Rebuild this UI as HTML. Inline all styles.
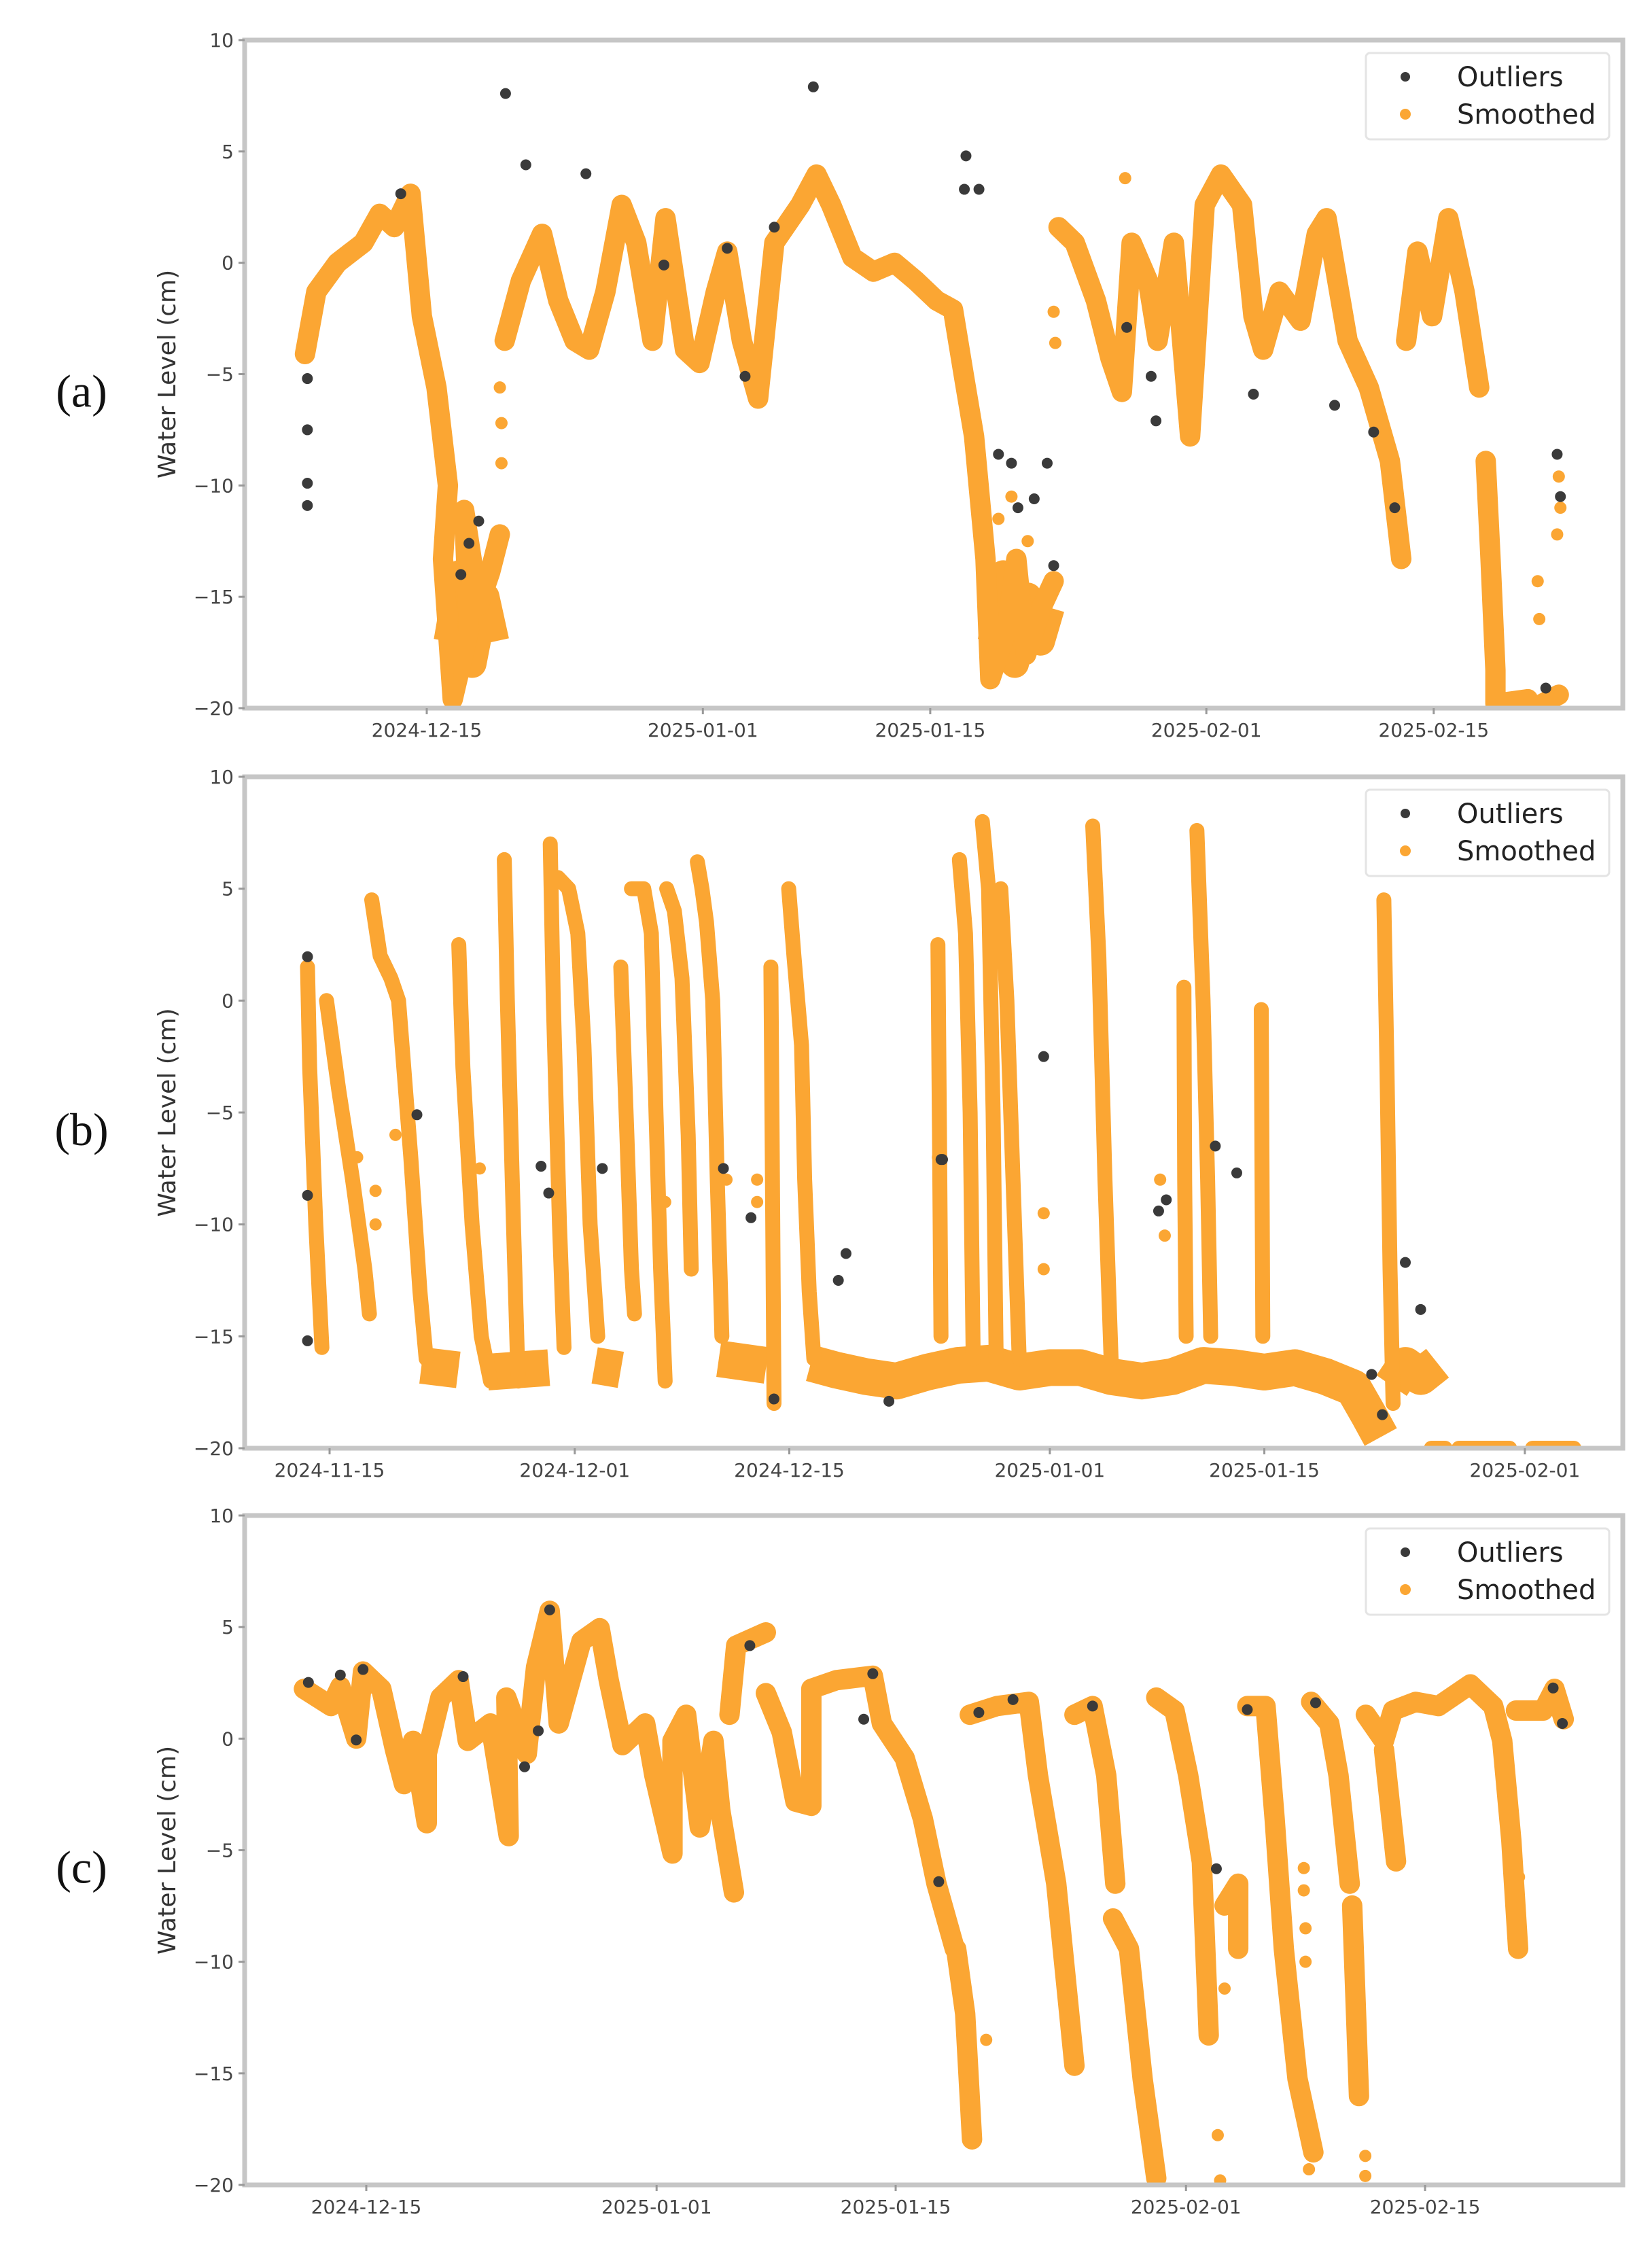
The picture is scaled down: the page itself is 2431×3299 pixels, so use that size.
<!DOCTYPE html>
<html><head><meta charset="utf-8"><style>
html,body{margin:0;padding:0;background:#fff;}
svg{display:block;}
text{font-family:"DejaVu Sans","Liberation Sans",sans-serif;}
</style></head><body>
<svg id="fig" width="2431" height="3299" viewBox="0 0 2431 3299" xmlns="http://www.w3.org/2000/svg">
<rect x="0" y="0" width="2431" height="3299" fill="#fff"/>
</svg>
<script>
// ---------- shared data ----------
const yTickValues = [10, 5, 0, -5, -10, -15, -20];
const yTickLabels = ['10', '5', '0', '\u22125', '\u221210', '\u221215', '\u221220'];

// ---------- panel (a) ----------
const aTickDays = [0, 17, 31, 48, 62];
const aTickLabels = ['2024-12-15', '2025-01-01', '2025-01-15', '2025-02-01', '2025-02-15'];
const aSmoothed = [[-7.5,-4.1],[-6.8,-1.3],[-5.5,0.0],[-3.9,0.9],[-2.9,2.2],[-2.0,1.6],[-1.0,3.1],[-0.3,-2.4],[0.6,-5.6],[1.3,-10],[1.0,-13.3],[1.6,-19.6],[2.6,-16.5],[2.3,-11.1],[3.2,-15.4],[3.9,-13.9],[4.5,-12.2],null,
[4.8,-3.5],[5.8,-0.8],[7.1,1.3],[8.1,-1.7],[9.1,-3.5],[10.0,-3.9],[11.0,-1.3],[12.0,2.6],[12.9,0.9],[13.9,-3.5],[14.7,2.0],[15.9,-3.9],[16.8,-4.5],[17.8,-1.3],[18.5,0.5],[19.4,-3.5],[20.4,-6.1],[21.4,0.9],[23.0,2.6],[24.0,3.96],[24.9,2.6],[26.2,0.25],[27.5,-0.4],[28.8,0.0],[30.1,-0.8],[31.4,-1.7],[32.4,-2.1],[33.1,-5.2],[33.7,-7.8],[34.4,-13.3],[34.7,-18.7],[35.7,-16.5],[36.3,-13.3],[36.9,-17.6],[37.9,-15.4],[38.6,-14.3],null,
[38.9,1.6],[39.9,0.9],[41.2,-1.7],[42.1,-4.3],[42.8,-5.8],[43.4,0.9],[44.4,-0.8],[45.0,-3.5],[46.0,0.9],[47.0,-7.8],[47.9,2.6],[48.9,3.96],[50.2,2.6],[50.9,-2.4],[51.5,-3.9],[52.5,-1.3],[53.8,-2.6],[54.8,1.3],[55.4,2.0],[56.7,-3.5],[58.0,-5.6],[59.3,-8.9],[60.0,-13.3],null,
[60.3,-3.5],[61.0,0.5],[61.9,-2.4],[62.9,2.0],[63.9,-1.3],[64.8,-5.6],null,
[65.2,-8.9],[65.5,-13.3],[65.8,-18.3],[65.8,-19.8],[67.8,-19.6],null,[68.7,-19.8],[69.7,-19.4]];
const aBand = [[1.3,-17],[2.0,-14],[2.8,-18],[3.6,-15],[4.2,-17],null,[34.8,-17],[35.5,-14],[36.2,-18],[37.0,-15],[37.8,-17],[38.4,-15.5]];
const aSparse = [[4.5,-5.6],[4.6,-7.2],[4.6,-9.0],[2.0,-18.5],[38.6,-2.2],[38.7,-3.6],[43.0,3.8],[68.4,-14.3],[68.5,-16.0],[69.6,-12.2],[69.7,-9.6],[69.8,-11.0],[65.3,-10.5],[35.2,-11.5],[36.0,-10.5],[37.0,-12.5]];
const aOutliers = [[-7.35,-5.2],[-7.35,-7.5],[-7.35,-9.9],[-7.35,-10.9],[-1.6,3.1],[4.85,7.6],[6.1,4.4],[9.8,4.0],[2.1,-14.0],[2.6,-12.6],[3.2,-11.6],[19.6,-5.1],[18.5,0.65],[23.8,7.9],[33.2,4.8],[33.1,3.3],[34.0,3.3],[35.2,-8.6],[36.0,-9.0],[36.4,-11.0],[37.4,-10.6],[38.2,-9.0],[38.6,-13.6],[43.1,-2.9],[44.6,-5.1],[44.9,-7.1],[50.9,-5.9],[55.9,-6.4],[58.3,-7.6],[59.6,-11.0],[68.9,-19.1],[69.6,-8.6],[69.8,-10.5],[14.6,-0.1],[21.4,1.6]];

// ---------- panel (b) ----------
const bTickDays = [0, 16, 30, 47, 61, 78];
const bTickLabels = ['2024-11-15', '2024-12-01', '2024-12-15', '2025-01-01', '2025-01-15', '2025-02-01'];
const bSmoothed = [[-1.44,1.5],[-1.3,-3],[-0.9,-10],[-0.5,-15.5],null,
[-0.2,0],[0.6,-4],[1.5,-8],[2.3,-12],[2.6,-14],null,
[2.75,4.5],[3.3,2],[4.0,1],[4.5,0],[5.3,-7],[5.9,-13],[6.3,-16],null,
[8.43,2.5],[8.7,-3],[9.3,-10],[9.9,-15],[10.5,-17],null,
[11.4,6.3],[11.6,0],[12.0,-10],[12.3,-17],null,
[14.4,7],[14.6,0],[15.0,-10],[15.3,-15.5],null,
[14.9,5.5],[15.6,5],[16.2,3],[16.6,-2],[17.0,-10],[17.5,-15],null,
[19.0,1.5],[19.4,-6],[19.7,-12],[19.9,-14],null,
[19.7,5],[20.5,5],[21.0,3],[21.3,-5],[21.6,-12],[21.9,-17],null,
[22.0,5],[22.5,4],[23.0,1],[23.4,-6],[23.6,-12],null,
[24.0,6.2],[24.3,5],[24.6,3.5],[25.0,0],[25.3,-8],[25.6,-15],null,
[28.8,1.5],[28.9,-8],[29.0,-18],null,
[29.96,5],[30.3,2],[30.8,-2],[31.0,-8],[31.3,-13],[31.6,-16],null,
[39.7,2.5],[39.8,-6],[39.9,-15],null,
[41.1,6.3],[41.5,3],[41.8,-5],[42,-16],null,
[42.6,8],[43.0,5],[43.3,-5],[43.5,-16],null,
[43.8,5],[44.2,0],[44.6,-8],[45,-16],null,
[49.8,7.8],[50.2,2],[50.6,-8],[51.0,-16],null,
[55.75,0.6],[55.8,-8],[55.9,-15],null,
[56.6,7.6],[57.0,0],[57.3,-8],[57.5,-15],null,
[60.8,-0.4],[60.85,-8],[60.9,-15],null,
[68.8,4.5],[69.0,-3],[69.2,-12],[69.4,-18],null,
[71.9,-20],[72.8,-20],null,[73.7,-20],[77,-20],null,[78.5,-20],[81.2,-20]];
const bBand = [[6.0,-16.3],[8.4,-16.5],null,[10.3,-16.6],[14.3,-16.4],null,[17.3,-16.3],[19.0,-16.5],null,[25.4,-16],[28.5,-16.3],null,
[31.4,-16.2],[33,-16.5],[35,-16.8],[37,-17.0],[39,-16.6],[41,-16.3],[43,-16.2],[45,-16.6],[47,-16.4],[49,-16.4],[51,-16.8],[53,-17.0],[55,-16.8],[57,-16.3],[59,-16.4],[61,-16.6],[63,-16.4],[65,-16.8],[66.8,-17.3],[67.8,-18.5],[68.6,-19.5],null,
[69.3,-17.2],[70.2,-16.3],[71.2,-16.8],[72.3,-16.2]];
const bSparse = [[3.0,-8.5],[3.0,-10],[1.8,-7],[4.3,-6],[9.8,-7.5],[21.9,-9],[25.9,-8],[27.9,-9],[27.9,-8],[39.7,-7],[46.6,-9.5],[46.6,-12],[54.2,-8],[54.5,-10.5]];
const bOutliers = [[-1.44,1.96],[-1.44,-8.7],[-1.44,-15.2],[5.7,-5.1],[13.8,-7.4],[14.3,-8.6],[17.8,-7.5],[25.7,-7.5],[27.5,-9.7],[33.7,-11.3],[33.2,-12.5],[29.0,-17.8],[36.5,-17.9],[39.9,-7.1],[46.6,-2.5],[40.0,-7.1],[57.8,-6.5],[59.2,-7.7],[54.6,-8.9],[54.1,-9.4],[70.2,-11.7],[71.2,-13.8],[68.0,-16.7],[68.7,-18.5]];

// ---------- panel (c) ----------
const cTickDays = [0, 17, 31, 48, 62];
const cTickLabels = ['2024-12-15', '2025-01-01', '2025-01-15', '2025-02-01', '2025-02-15'];
const cSmoothed = [[-3.65,2.23],[-2.06,1.46],[-1.52,2.33],[-0.59,0],[-0.19,3.01],[0.88,2.23],[1.68,-0.49],[2.21,-2.04],[2.74,-0.1],[3.54,-3.79],[3.54,-0.68],[4.34,1.84],[5.41,2.62],[5.94,-0.1],[7.27,0.68],[8.34,-4.37],[8.2,1.84],[9.4,-0.68],[9.94,3.2],[10.74,5.73],[11.27,0.68],[12.6,4.37],[13.67,4.95],[14.2,2.62],[15.0,-0.29],[16.33,0.68],[16.87,-1.65],[17.93,-5.15],[17.93,-0.1],[18.73,1.07],[19.53,-3.98],[20.33,-0.1],[20.73,-3.2],[21.53,-6.89],null,
[21.27,1.07],[21.66,4.17],[23.4,4.76],null,
[23.4,2.04],[24.33,0.29],[25.13,-2.82],[26.06,-3.01],[26.06,2.23],[27.53,2.62],[29.66,2.82],[30.19,0.68],[31.53,-0.87],[32.59,-3.59],[33.39,-6.5],[34.46,-9.42],[34.54,-9.42],[35.07,-12.33],[35.47,-17.96],null,
[35.34,1.07],[36.93,1.46],[38.8,1.65],[39.33,-1.65],[40.4,-6.5],[41.47,-14.66],null,
[41.47,1.07],[42.53,1.46],[43.33,-1.65],[43.86,-6.5],null,
[43.73,-8.06],[44.66,-9.42],[45.46,-15.24],[46.26,-19.7],null,
[46.26,1.84],[47.33,1.26],[48.13,-1.65],[48.93,-5.53],[49.33,-13.3],null,
[50.26,-7.48],[51.06,-6.5],[51.06,-9.42],null,
[51.59,1.46],[52.66,1.46],[53.19,-3.59],[53.73,-9.42],[54.53,-15.24],[55.46,-18.54],null,
[55.33,1.65],[56.39,0.68],[56.93,-1.65],[57.59,-6.5],null,
[57.73,-7.48],[58.13,-16.02],null,
[58.53,1.07],[59.59,-0.1],[60.12,1.26],[61.45,1.65],[62.79,1.46],[64.65,2.43],[65.99,1.46],[66.52,-0.1],[67.05,-4.56],[67.45,-9.42],null,
[59.6,-0.5],[60.3,-5.5],null,
[67.32,1.26],[68.92,1.26],[69.58,2.23],[70.12,0.87]];
const cBand = [];
const cSparse = [[49.86,-17.77],[50.0,-19.8],[50.26,-11.2],[54.9,-5.8],[54.9,-6.8],[55.0,-8.5],[55.0,-10],[55.2,-19.3],[58.5,-18.7],[58.5,-19.6],[67.5,-6.2],[67.5,-7.6],[36.3,-13.5]];
const cOutliers = [[-1.52,2.85],[-0.19,3.1],[5.67,2.78],[10.74,5.77],[22.46,4.17],[29.66,2.91],[29.13,0.87],[9.27,-1.26],[10.07,0.35],[-0.59,-0.06],[33.52,-6.41],[-3.39,2.52],[42.53,1.46],[49.78,-5.83],[69.5,2.27],[70.04,0.68],[55.59,1.61],[51.59,1.3],[37.87,1.75],[35.87,1.17]];

// ---------- layout (positions, not data) ----------
const panels = [
  {id:'a', label:'(a)', left:360, right:2388, top:59, bottom:1042, x0:628, pxPerDay:23.9, lw:30, bandW:42, ticksD:aTickDays, ticksL:aTickLabels, smooth:aSmoothed, band:aBand, sparse:aSparse, outl:aOutliers},
  {id:'b', label:'(b)', left:360, right:2388, top:1143, bottom:2131, x0:485, pxPerDay:22.55, lw:22, bandW:54, ticksD:bTickDays, ticksL:bTickLabels, smooth:bSmoothed, band:bBand, sparse:bSparse, outl:bOutliers},
  {id:'c', label:'(c)', left:360, right:2388, top:2230, bottom:3215, x0:539, pxPerDay:25.13, lw:30, bandW:40, ticksD:cTickDays, ticksL:cTickLabels, smooth:cSmoothed, band:cBand, sparse:cSparse, outl:cOutliers}
];
const NS = 'http://www.w3.org/2000/svg';
const svg = document.getElementById('fig');
const ORANGE = '#fba633';
const DARK = '#3a3a3a';

function mk(tag, attrs, parent) {
  const el = document.createElementNS(NS, tag);
  for (const k in attrs) el.setAttribute(k, attrs[k]);
  parent.appendChild(el);
  return el;
}

panels.forEach(p => {
  const xS = d => p.x0 + d * p.pxPerDay;
  const yS = v => p.bottom - (v + 20) * (p.bottom - p.top) / 30;
  const g = mk('g', {}, svg);
  
  

  const clipId = 'clip-' + p.id;
  const cp = mk('clipPath', {id: clipId}, g);
  mk('rect', {x: p.left, y: p.top - 12, width: p.right - p.left, height: p.bottom - p.top + 14}, cp);

  function pathFrom(series) {
    let d = '', pen = false;
    series.forEach(pt => {
      if (pt === null) { pen = false; return; }
      d += (pen ? 'L' : 'M') + xS(pt[0]).toFixed(1) + ' ' + yS(pt[1]).toFixed(1) + ' ';
      pen = true;
    });
    return d;
  }
  if (p.band.length) {
    const band = mk('path', {d: pathFrom(p.band), fill: 'none', stroke: ORANGE, 'stroke-width': p.bandW, 'stroke-linejoin': 'round', 'stroke-linecap': 'butt', 'clip-path': 'url(#' + clipId + ')'}, g);
    
    
  }
  const path = mk('path', {d: pathFrom(p.smooth), fill: 'none', stroke: ORANGE, 'stroke-width': p.lw, 'stroke-linejoin': 'round', 'stroke-linecap': 'round', 'clip-path': 'url(#' + clipId + ')'}, g);
  
  

  p.sparse.forEach(pt => {
    const c = mk('circle', {cx: xS(pt[0]), cy: yS(pt[1]), r: 9, fill: ORANGE, 'clip-path': 'url(#' + clipId + ')'}, g);
    
    
  });
  p.outl.forEach(pt => {
    const c = mk('circle', {cx: xS(pt[0]), cy: yS(pt[1]), r: 8, fill: DARK}, g);
    
    
  });

  const frame = mk('rect', {x: p.left, y: p.top, width: p.right - p.left, height: p.bottom - p.top, fill: 'none', stroke: '#c6c6c6', 'stroke-width': 7}, g);
  
  

  yTickValues.forEach((v, i) => {
    const y = yS(v);
    mk('line', {x1: p.left - 9, x2: p.left, y1: y, y2: y, stroke: '#999', 'stroke-width': 3}, g);
    const t = mk('text', {x: p.left - 16, y: y + 10, 'text-anchor': 'end', 'font-size': 28, fill: '#444'}, g);
    t.textContent = yTickLabels[i];
    
    
  });
  p.ticksD.forEach((dd, i) => {
    const x = xS(dd);
    mk('line', {x1: x, x2: x, y1: p.bottom, y2: p.bottom + 9, stroke: '#999', 'stroke-width': 3}, g);
    const t = mk('text', {x: x, y: p.bottom + 42, 'text-anchor': 'middle', 'font-size': 28, fill: '#444'}, g);
    t.textContent = p.ticksL[i];
    
    
  });
  const cy = (p.top + p.bottom) / 2;
  const yt = mk('text', {x: 0, y: 0, transform: 'translate(258,' + cy + ') rotate(-90)', 'text-anchor': 'middle', 'font-size': 36, fill: '#333'}, g);
  yt.textContent = 'Water Level (cm)';
  
  
  const pl = mk('text', {x: 120, y: cy + 48, 'text-anchor': 'middle', 'font-size': 68, fill: '#111', style: 'font-family:"Liberation Serif",serif'}, g);
  pl.textContent = p.label;
  
  

  const lg = mk('g', {}, g);
  
  
  mk('rect', {x: 2010, y: p.top + 19, width: 358, height: 127, rx: 6, fill: '#fff', stroke: '#e4e4e4', 'stroke-width': 3}, lg);
  const e1 = mk('g', {}, lg);
  
  
  mk('circle', {cx: 2068, cy: p.top + 54, r: 7, fill: DARK}, e1);
  const t1 = mk('text', {x: 2144, y: p.top + 68, 'font-size': 40, fill: '#222'}, e1);
  t1.textContent = 'Outliers';
  const e2 = mk('g', {}, lg);
  
  
  mk('circle', {cx: 2068, cy: p.top + 109, r: 8, fill: ORANGE}, e2);
  const t2 = mk('text', {x: 2144, y: p.top + 123, 'font-size': 40, fill: '#222'}, e2);
  t2.textContent = 'Smoothed';
});
</script>
</body></html>
